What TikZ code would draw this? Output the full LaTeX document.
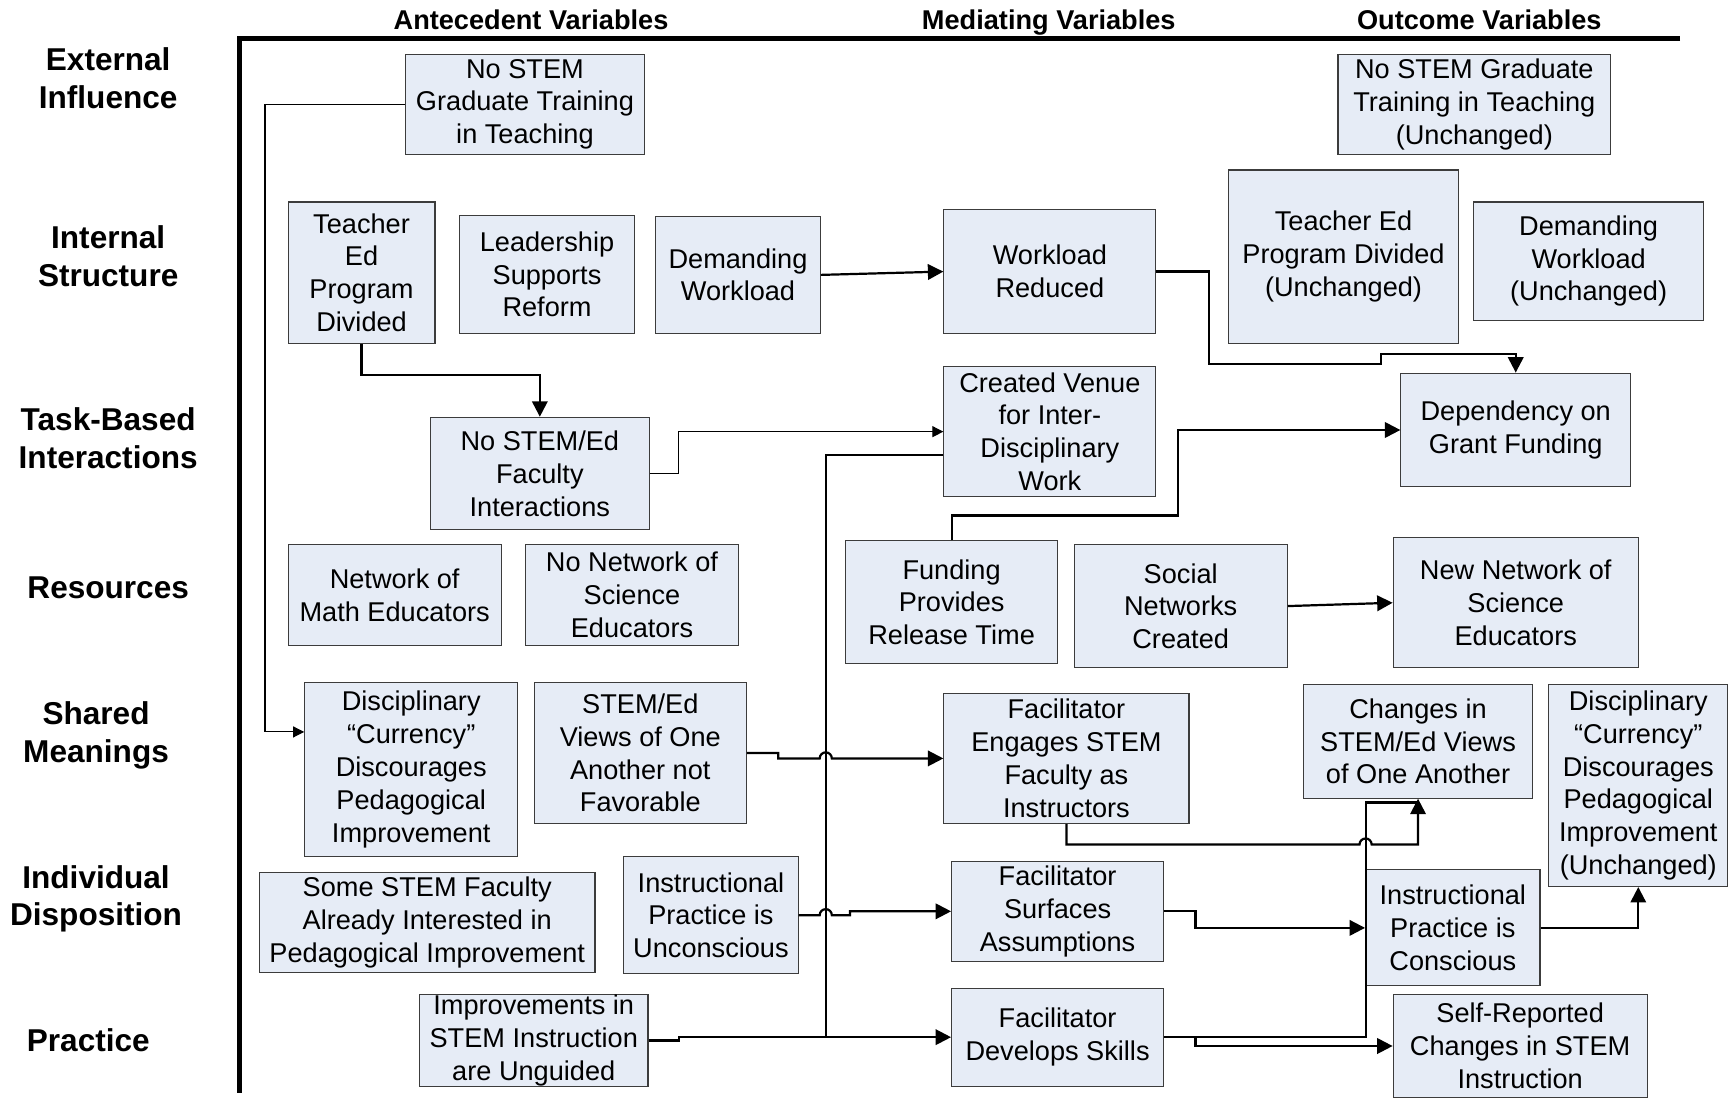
\documentclass[tikz,border=0pt]{standalone}
\usepackage{fontspec}
\setmainfont{Liberation Sans}
\usetikzlibrary{arrows.meta,calc}
\definecolor{boxfill}{RGB}{230,236,246}
\definecolor{boxline}{RGB}{60,60,60}
\begin{document}
\begin{tikzpicture}[x=0.5pt,y=0.5pt,
  box/.style={draw=boxline, line width=0.5pt, fill=boxfill, align=center, inner sep=0pt,
    font=\fontsize{12.3}{14.85}\selectfont},
  rowlab/.style={align=center, font=\fontsize{14.3}{17}\selectfont\bfseries},
  colhead/.style={anchor=base, font=\fontsize{12.3}{14.85}\selectfont\bfseries},
  thickconn/.style={line width=1pt},
  thinconn/.style={line width=0.5pt},
  arr/.style={-{Triangle[length=7pt,width=7pt]}},
  sarr/.style={-{Triangle[length=5pt,width=5pt]}},
  framel/.style={line width=2pt}]
\useasboundingbox (0,0) rectangle (1568,-996);

% frame
\coordinate (ftr) at (1522,-35);
\coordinate (ftl) at (217,-35);
\coordinate (fbl) at (217,-990);
\draw[framel] (ftr) -- (ftl) -- (fbl);

% column headers
\node[colhead] (hA) at (481,-26.8) {Antecedent Variables};
\node[colhead] (hM) at (950,-26.8) {Mediating Variables};
\node[colhead] (hO) at (1340,-26.8) {Outcome Variables};

% row labels
\node[rowlab] (r1) at (98,-71) {External\\Influence};
\node[rowlab] (r2) at (98,-232) {Internal\\Structure};
\node[rowlab] (r3) at (98,-397) {Task-Based\\Interactions};
\node[rowlab] (r4) at (98,-532) {Resources};
\node[rowlab] (r5) at (87,-666) {Shared\\Meanings};
\node[rowlab] (r6) at (87,-814) {Individual\\Disposition};
\node[rowlab] (r7) at (80,-942) {Practice};

% boxes
\node[box, minimum width=108.5pt, minimum height=45.5pt] (grad) at (475.5,-94.5) {No STEM\\Graduate Training\\in Teaching};
\node[box, minimum width=66.5pt, minimum height=64pt] (ted) at (327.5,-247) {Teacher\\Ed\\Program\\Divided};
\node[box, minimum width=79.5pt, minimum height=53.5pt] (lead) at (495.5,-248.5) {Leadership\\Supports\\Reform};
\node[box, minimum width=74.5pt, minimum height=53pt] (dw) at (668.5,-249) {Demanding\\Workload};
\node[box, minimum width=96pt, minimum height=56pt] (wr) at (951,-246) {Workload\\Reduced};
\node[box, minimum width=123.5pt, minimum height=45.5pt] (gradU) at (1335.5,-94.5) {No STEM Graduate\\Training in Teaching\\(Unchanged)};
\node[box, minimum width=104pt, minimum height=78.5pt] (tedU) at (1217,-232.5) {Teacher Ed\\Program Divided\\(Unchanged)};
\node[box, minimum width=104pt, minimum height=53.5pt] (dwU) at (1439,-236.5) {Demanding\\Workload\\(Unchanged)};
\node[box, minimum width=99pt, minimum height=51pt] (nofac) at (489,-429) {No STEM/Ed\\Faculty\\Interactions};
\node[box, minimum width=96pt, minimum height=59pt] (venue) at (951,-391) {Created Venue\\for Inter-\\Disciplinary\\Work};
\node[box, minimum width=104pt, minimum height=51.5pt] (grant) at (1373,-389.5) {Dependency on\\Grant Funding};
\node[box, minimum width=96.5pt, minimum height=46pt] (math) at (357.5,-539) {Network of\\Math Educators};
\node[box, minimum width=96.5pt, minimum height=46pt] (nosci) at (572.5,-539) {No Network of\\Science\\Educators};
\node[box, minimum width=96pt, minimum height=55.5pt] (fund) at (862,-545.5) {Funding\\Provides\\Release Time};
\node[box, minimum width=96.5pt, minimum height=56pt] (social) at (1069.5,-549) {Social\\Networks\\Created};
\node[box, minimum width=111pt, minimum height=59pt] (newsci) at (1373,-546) {New Network of\\Science\\Educators};
\node[box, minimum width=96.5pt, minimum height=79pt] (curr) at (372.5,-697) {Disciplinary\\“Currency”\\Discourages\\Pedagogical\\Improvement};
\node[box, minimum width=96pt, minimum height=64pt] (views) at (580,-682) {STEM/Ed\\Views of One\\Another not\\Favorable};
\node[box, minimum width=111pt, minimum height=59pt] (engages) at (966,-687) {Facilitator\\Engages STEM\\Faculty as\\Instructors};
\node[box, minimum width=103.5pt, minimum height=51.5pt] (changes) at (1284.5,-671.5) {Changes in\\STEM/Ed Views\\of One Another};
\node[box, minimum width=81pt, minimum height=91.5pt] (currU) at (1484,-711.5) {Disciplinary\\“Currency”\\Discourages\\Pedagogical\\Improvement\\(Unchanged)};
\node[box, minimum width=152pt, minimum height=45.5pt] (some) at (387,-835.5) {Some STEM Faculty\\Already Interested in\\Pedagogical Improvement};
\node[box, minimum width=79pt, minimum height=53pt] (uncon) at (644,-829) {Instructional\\Practice is\\Unconscious};
\node[box, minimum width=96pt, minimum height=45.5pt] (surf) at (958,-825.5) {Facilitator\\Surfaces\\Assumptions};
\node[box, minimum width=79pt, minimum height=52.5pt] (consc) at (1316,-840.5) {Instructional\\Practice is\\Conscious};
\node[box, minimum width=103.5pt, minimum height=41.5pt] (impr) at (483.5,-942.5) {Improvements in\\STEM Instruction\\are Unguided};
\node[box, minimum width=96pt, minimum height=44.5pt] (skills) at (958,-939.5) {Facilitator\\Develops Skills};
\node[box, minimum width=115pt, minimum height=46.5pt] (selfrep) at (1377,-947.5) {Self-Reported\\Changes in STEM\\Instruction};

% connectors
% a: graduate training -> currency (thin)
\draw[thinconn, sarr] (grad.west) -- (240,-94.5) -- (240,-663) -- (curr.west |- 240,-663);
% b: teacher ed -> no STEM/Ed faculty
\draw[thickconn, arr] (ted.south) -- (327.5,-340) -- (489,-340) -- (nofac.north);
% c: demanding workload -> workload reduced
\draw[thickconn, arr] (dw.east) -- (wr.west);
% d: workload reduced -> dependency on grant funding
\draw[thickconn, arr] (wr.east) -- (1095,-246) -- (1095,-330) -- (1251,-330) -- (1251,-321) -- (1373,-321) -- (grant.north);
% e: no STEM/Ed faculty -> created venue (thin)
\draw[thinconn, sarr] (nofac.east) -- (615,-429) -- (615,-391) -- (venue.west);
% f: improvements -> develops skills, with branch up to created venue
\coordinate (vj) at (748,-939.5);
\draw[thickconn, arr] (impr.east) -- (615,-942.5) -- (615,-939.5) -- (skills.west);
\draw[thickconn] (venue.west |- 748,-412) -- (748,-412) -- (vj);
% g: views -> engages (hop)
\draw[thickconn, arr] (views.east) -- (705,-682) -- (705,-687) -- (742.5,-687)
  arc[start angle=180,end angle=0,radius=5.5] -- (engages.west);
% h: unconscious -> surfaces (hop)
\draw[thickconn, arr] (uncon.east) -- (742.5,-829)
  arc[start angle=180,end angle=0,radius=5.5] -- (770,-829) -- (770,-825.5) -- (surf.west);
% i: engages -> changes (hop)
\draw[thickconn, arr] (engages.south) -- (966,-765) -- (1231.5,-765)
  arc[start angle=180,end angle=0,radius=5.5] -- (1284.5,-765) -- (changes.south);
% j: develops skills -> changes in views, and -> self-reported
\draw[thickconn] (skills.east) -- (1237,-939.5) -- (1237,-727) -- (1284.5,-727);
\draw[thickconn, arr] (skills.east) -- (1083,-939.5) -- (1083,-947.5) -- (selfrep.west);
% k: surfaces -> conscious
\draw[thickconn, arr] (surf.east) -- (1083,-825.5) -- (1083,-840.5) -- (consc.west);
% l: conscious -> currency unchanged
\draw[thickconn, arr] (consc.east) -- (1484,-840.5) -- (currU.south);
% m: funding -> dependency
\draw[thickconn, arr] (fund.north) -- (862,-467) -- (1067,-467) -- (1067,-389.5) -- (grant.west);
% n: social networks -> new network
\draw[thickconn, arr] (social.east) -- (newsci.west);
\end{tikzpicture}
\end{document}
